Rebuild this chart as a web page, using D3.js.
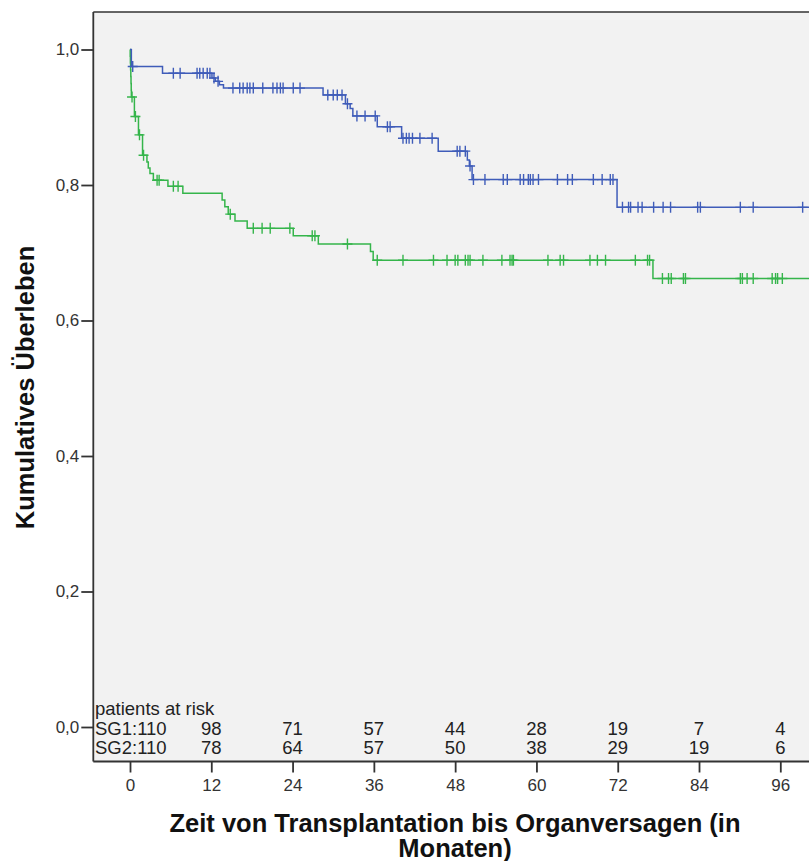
<!DOCTYPE html>
<html>
<head>
<meta charset="utf-8">
<script src="https://cdn.jsdelivr.net/npm/d3@7"></script>
<style>
  html, body { margin: 0; padding: 0; background: #ffffff; }
  svg { display: block; font-family: "Liberation Sans", Arial, sans-serif; }
</style>
</head>
<body>
<svg id="chart" width="809" height="861"></svg>
<script>
// ---------- data ----------
const xTicks = [0, 12, 24, 36, 48, 60, 72, 84, 96];
const yTicks = [0, 0.2, 0.4, 0.6, 0.8, 1.0];
const followUpEnd = 104;

// SG1 (blue) Kaplan-Meier steps
const sg1Times = [0, 0.2, 4.8, 12.1, 12.6, 13.2, 13.8, 28.5, 31.8, 32.5, 32.9, 36.5, 40.1, 45.5, 49.8, 50.1, 50.5, 71.9];
const sg1Surv  = [1, 0.975, 0.965, 0.958, 0.953, 0.948, 0.943, 0.933, 0.920, 0.913, 0.902, 0.886, 0.869, 0.850, 0.837, 0.828, 0.808, 0.767];
const sg1Censor = [0.4, 6.4, 7.4, 9.9, 10.3, 10.8, 11.4, 11.8, 12.4, 13.0, 15.2, 16.2, 16.7, 17.3, 17.7, 18.2, 19.6, 21.1, 21.7, 22.2, 22.6, 24.1, 25.1,
  29.2, 30.0, 30.6, 31.3, 32.1, 33.5, 34.7, 36.2, 38.0, 38.4, 40.3, 40.8, 41.2, 41.7, 42.8, 44.6, 48.3, 48.7, 49.5, 50.2,
  50.7, 52.4, 55.1, 55.7, 57.6, 58.1, 58.8, 59.1, 59.5, 60.3, 63.1, 64.6, 65.3, 68.4, 69.7, 70.9, 71.3,
  72.7, 73.6, 73.9, 75.0, 75.6, 77.3, 78.7, 79.8, 83.8, 84.2, 90.1, 92.0, 99.3];

// SG2 (green) Kaplan-Meier steps
const sg2Times = [0, 0.03, 0.06, 0.09, 0.12, 0.15, 0.18, 0.2, 0.65, 1.25, 1.85, 2.5, 2.7, 2.95, 3.45, 5.6, 7.8, 13.6, 14.0, 14.5, 15.5, 17.3, 24.1, 27.8, 35.5, 35.9, 77.2];
const sg2Surv  = [1, 0.99, 0.98, 0.97, 0.96, 0.95, 0.94, 0.93, 0.901, 0.874, 0.844, 0.834, 0.825, 0.817, 0.807, 0.798, 0.788, 0.778, 0.768, 0.757, 0.747, 0.736, 0.725, 0.713, 0.702, 0.689, 0.662];
const sg2Censor = [0.3, 0.8, 1.4, 2.0, 4.0, 4.3, 6.4, 7.1, 14.8, 18.2, 19.5, 20.7, 23.6, 26.9, 27.3, 32.1,
  36.5, 40.3, 44.8, 46.8, 48.0, 48.4, 49.5, 49.9, 50.2, 52.1, 54.9, 56.1, 56.4, 56.6, 61.7, 63.5, 64.0, 67.9, 69.0, 70.2, 74.6, 76.4, 76.7,
  78.6, 79.5, 79.9, 81.7, 82.0, 90.1, 90.4, 91.1, 92.0, 94.8, 95.3, 95.6, 96.3];

const riskLabels = ["SG1:110", "SG2:110"];
const riskSG1 = [98, 71, 57, 44, 28, 19, 7, 4];
const riskSG2 = [78, 64, 57, 50, 38, 29, 19, 6];
const riskTitle = "patients at risk";
const yTitle = "Kumulatives Überleben";
const xTitleLines = ["Zeit von Transplantation bis Organversagen (in", "Monaten)"];

const colors = { sg1: "#3f5cb9", sg2: "#35b54b" };

// ---------- scales ----------
const x = d3.scaleLinear().domain([0, 96]).range([130, 780.3]);
const y = d3.scaleLinear().domain([0, 1]).range([727, 49.5]);
const frame = { left: 93.3, top: 12, right: 812, bottom: 761.5 };

const svg = d3.select("#chart");

svg.append("rect")
  .attr("x", frame.left).attr("y", frame.top)
  .attr("width", frame.right - frame.left).attr("height", frame.bottom - frame.top)
  .attr("fill", "#f2f2f2");

svg.append("clipPath").attr("id", "clip")
  .append("rect").attr("x", frame.left).attr("y", frame.top)
  .attr("width", frame.right - frame.left).attr("height", frame.bottom - frame.top);

const plot = svg.append("g").attr("clip-path", "url(#clip)");

function stepValue(times, surv, t) {
  const i = d3.bisectRight(times, t) - 1;
  return surv[Math.max(0, i)];
}

function drawGroup(times, surv, censor, color) {
  const pts = times.map((t, i) => [t, surv[i]]);
  pts.push([followUpEnd, surv[surv.length - 1]]);
  const line = d3.line().x(d => x(d[0])).y(d => y(d[1])).curve(d3.curveStepAfter);
  plot.append("path").datum(pts)
    .attr("d", line).attr("fill", "none")
    .attr("stroke", color).attr("stroke-width", 1.5);
  const g = plot.append("g").attr("stroke", color).attr("stroke-width", 1.4);
  censor.forEach(t => {
    const cx = x(t), cy = y(stepValue(times, surv, t));
    g.append("line").attr("x1", cx).attr("x2", cx).attr("y1", cy - 5.5).attr("y2", cy + 5.5);
    g.append("line").attr("x1", cx - 5).attr("x2", cx + 5).attr("y1", cy).attr("y2", cy);
  });
}

drawGroup(sg2Times, sg2Surv, sg2Censor, colors.sg2);
drawGroup(sg1Times, sg1Surv, sg1Censor, colors.sg1);

// frame lines
svg.append("line").attr("x1", frame.left).attr("x2", frame.right).attr("y1", frame.top).attr("y2", frame.top)
  .attr("stroke", "#333").attr("stroke-width", 1.5);
svg.append("line").attr("x1", frame.left).attr("x2", frame.left).attr("y1", frame.top).attr("y2", frame.bottom)
  .attr("stroke", "#333").attr("stroke-width", 1.8);
svg.append("line").attr("x1", frame.left).attr("x2", frame.right).attr("y1", frame.bottom).attr("y2", frame.bottom)
  .attr("stroke", "#333").attr("stroke-width", 1.8);

// y axis
const fmt = d => d3.format(".1f")(d).replace(".", ",");
const yAxis = d3.axisLeft(y).tickValues(yTicks).tickFormat(fmt).tickSize(12).tickPadding(2);
const yg = svg.append("g").attr("transform", `translate(${frame.left},0)`).call(yAxis);
yg.select(".domain").remove();
yg.selectAll(".tick line").attr("stroke", "#333").attr("stroke-width", 1.8);
yg.selectAll(".tick text").attr("fill", "#333").attr("font-size", 17).attr("font-family", "Liberation Sans, Arial, sans-serif");

// x axis
const xAxis = d3.axisBottom(x).tickValues(xTicks).tickFormat(d3.format("d")).tickSize(11).tickPadding(6);
const xg = svg.append("g").attr("transform", `translate(0,${frame.bottom})`).call(xAxis);
xg.select(".domain").remove();
xg.selectAll(".tick line").attr("stroke", "#333").attr("stroke-width", 1.8);
xg.selectAll(".tick text").attr("fill", "#333").attr("font-size", 17).attr("font-family", "Liberation Sans, Arial, sans-serif");

// risk table
const risk = svg.append("g").attr("font-size", 18.5).attr("fill", "#222");
risk.append("text").attr("x", 95).attr("y", 715).text(riskTitle);
[riskSG1, riskSG2].forEach((row, r) => {
  const by = 735 + r * 19;
  risk.append("text").attr("x", 95).attr("y", by).text(riskLabels[r]);
  row.forEach((v, i) => {
    risk.append("text").attr("x", x(xTicks[i + 1])).attr("y", by).attr("text-anchor", "middle").text(v);
  });
});

// axis titles
svg.append("text")
  .attr("transform", `translate(33.5,${387.5}) rotate(-90)`)
  .attr("text-anchor", "middle").attr("font-size", 25.5).attr("font-weight", "bold").attr("fill", "#111")
  .text(yTitle);
xTitleLines.forEach((l, i) => {
  svg.append("text").attr("x", 455).attr("y", 831.5 + i * 25)
    .attr("text-anchor", "middle").attr("font-size", 25.5).attr("font-weight", "bold").attr("fill", "#111")
    .text(l);
});
</script>
</body>
</html>
